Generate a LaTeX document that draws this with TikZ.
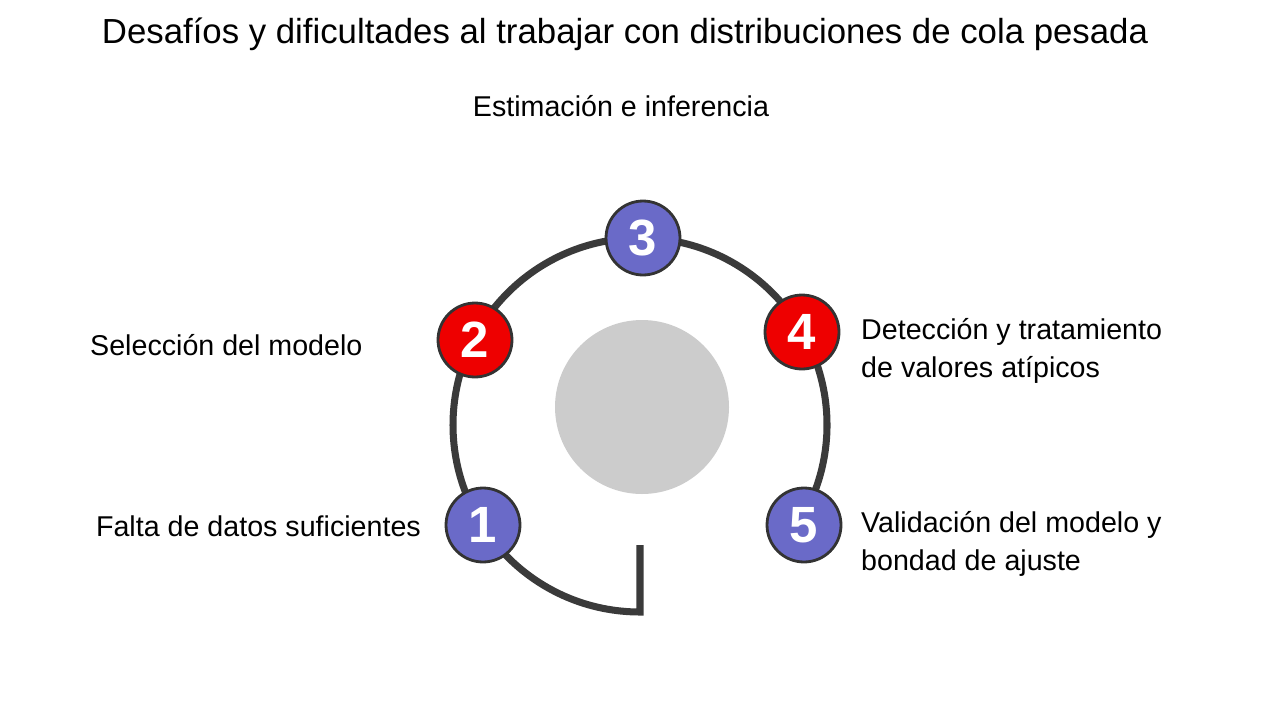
\documentclass[tikz,border=0pt]{standalone}
\usepackage{fontspec}
\setmainfont{Liberation Sans}
\usetikzlibrary{calc}

\begin{document}
\begin{tikzpicture}[x=0.02cm,y=-0.02cm]
	\tikzset{badge/.style={circle, draw=black!80, line width=1.6pt, minimum size=1.48cm, inner sep=0pt, text=white, font=\fontsize{29}{29}\selectfont\bfseries}}
	\tikzset{lbl/.style={font=\fontsize{16.3}{21.5}\selectfont, align=left}}
	\definecolor{stepblue}{HTML}{6A6AC8}
	\definecolor{stepred}{HTML}{EE0000}
	\definecolor{ring}{HTML}{3A3A3A}
	\useasboundingbox (0,0) rectangle (1280,720);
	\coordinate (oo) at (640,425);
	\coordinate (bot) at (640,612);
	\coordinate (tip) at (640,545);
	\fill[black!20] (642,407) circle (87);
	% ring
	\draw[ring, line width=4pt] (tip) -- (bot) arc[start angle=90, end angle=392, radius=187];
	\node[badge, fill=stepblue] (n1) at (483,525) {1};
	\node[badge, fill=stepred] (n2) at (475,340) {2};
	\node[badge, fill=stepblue] (n3) at (643,238) {3};
	\node[badge, fill=stepred] (n4) at (802,332) {4};
	\node[badge, fill=stepblue] (n5) at (804,525) {5};
	\node[font=\fontsize{19.8}{24}\selectfont] (title) at (625,34) {Desafíos y dificultades al trabajar con distribuciones de cola pesada};
	\node[lbl] (l3) at (621,106) {Estimación e inferencia};
	\node[lbl, anchor=west] (l2) at (84,345) {Selección del modelo};
	\node[lbl, anchor=east] (l1) at (427,526) {Falta de datos suficientes};
	\node[lbl, anchor=west] (l4) at (855,351) {Detección y tratamiento\\de valores atípicos};
	\node[lbl, anchor=west] (l5) at (855,544) {Validación del modelo y\\bondad de ajuste};
\end{tikzpicture}
\end{document}
